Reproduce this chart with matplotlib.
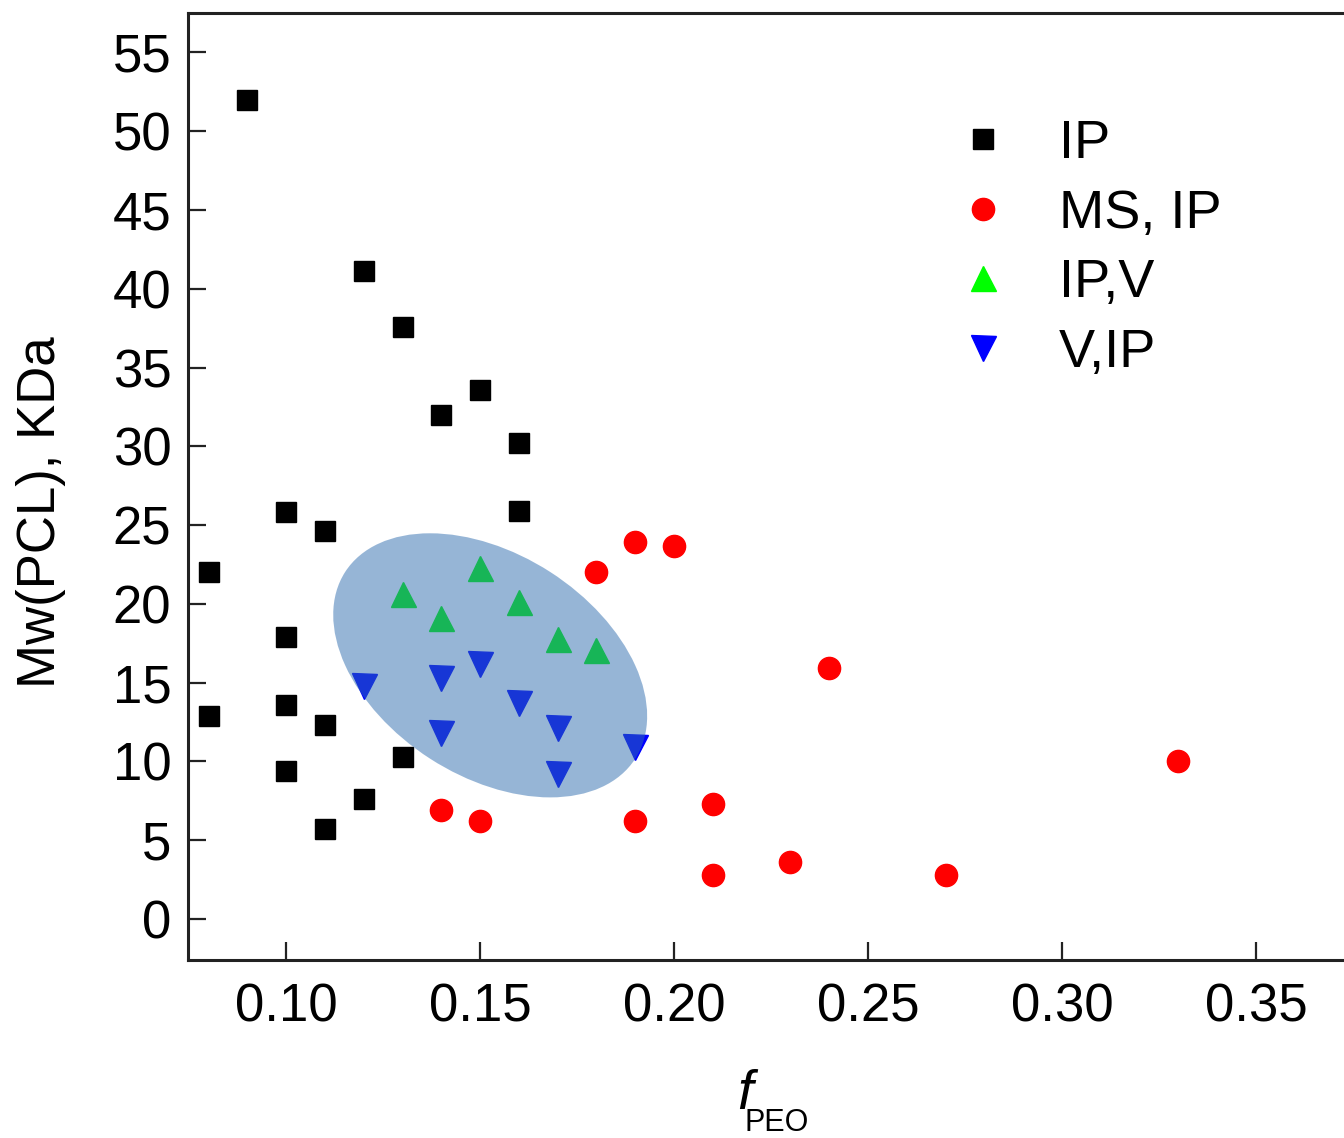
import matplotlib
matplotlib.use("Agg")
import matplotlib.pyplot as plt
from matplotlib.patches import Ellipse
from matplotlib.transforms import ScaledTranslation

plt.rcParams['font.family'] = ['Liberation Sans', 'DejaVu Sans']

# Data
ip_x = [0.09, 0.12, 0.13, 0.14, 0.15, 0.16, 0.16, 0.10, 0.11, 0.08, 0.10, 0.08, 0.10, 0.11, 0.10, 0.13, 0.12, 0.11]
ip_y = [52.0, 41.1, 37.6, 32.0, 33.6, 30.2, 25.9, 25.8, 24.6, 22.0, 17.9, 12.9, 13.6, 12.3, 9.4, 10.3, 7.6, 5.7]

ms_x = [0.19, 0.20, 0.18, 0.24, 0.33, 0.21, 0.14, 0.15, 0.19, 0.23, 0.21, 0.27]
ms_y = [23.9, 23.7, 22.0, 15.9, 10.0, 7.3, 6.9, 6.2, 6.2, 3.6, 2.8, 2.8]

ipv_x = [0.15, 0.13, 0.14, 0.16, 0.17, 0.18]
ipv_y = [22.3, 20.6, 19.1, 20.1, 17.8, 17.1]

vip_x = [0.12, 0.14, 0.15, 0.16, 0.14, 0.17, 0.19, 0.17]
vip_y = [14.8, 15.3, 16.2, 13.7, 11.8, 12.1, 10.9, 9.2]

x_ticks = [0.10, 0.15, 0.20, 0.25, 0.30, 0.35]
y_ticks = [0, 5, 10, 15, 20, 25, 30, 35, 40, 45, 50, 55]

ellipse_center = (0.1526, 16.1)

fig = plt.figure(figsize=(13.44, 11.38), dpi=100)
ax = fig.add_axes([188/1344, 1 - 960/1138, 1 - 188/1344, (960 - 13)/1138])

ax.plot(ip_x, ip_y, 's', color='black', ms=14, label='IP', zorder=3)
ax.plot(ms_x, ms_y, 'o', color='#ff0000', ms=16, label='MS, IP', zorder=3)
ax.plot(ipv_x, ipv_y, '^', color='#00ff00', ms=18, label='IP,V', zorder=3)
ax.plot(vip_x, vip_y, 'v', color='#0000ff', ms=18, label='V,IP', zorder=3)

# shaded ellipse (size in inches, placed at data center)
trans = fig.dpi_scale_trans + ScaledTranslation(ellipse_center[0], ellipse_center[1], ax.transData)
ell = Ellipse((0, 0), width=3.45, height=2.22, angle=-32.8, transform=trans,
              facecolor='#2f6daf', alpha=0.5, edgecolor='none', zorder=4)
ax.add_patch(ell)

ax.set_xlim(0.0747, 0.3727)
ax.set_ylim(-2.6, 57.5)
ax.set_xticks(x_ticks)
ax.set_xticklabels([f"{v:.2f}" for v in x_ticks])
ax.set_yticks(y_ticks)
ax.set_yticklabels([str(v) for v in y_ticks])

for s in ['left', 'top', 'bottom']:
    ax.spines[s].set_linewidth(2.2)
    ax.spines[s].set_color('#222222')
ax.spines['right'].set_visible(False)

ax.tick_params(axis='both', direction='in', length=13, width=1.6, color='#222222', labelsize=38)
ax.tick_params(axis='x', pad=16)
ax.tick_params(axis='y', pad=12)

ax.set_ylabel('Mw(PCL), KDa', fontsize=38)
ax.yaxis.set_label_coords(-0.1055, 0.473)

ax.set_xlabel('f', fontsize=40, style='italic')
ax.xaxis.set_label_coords(0.4818, -0.115)
ax.text(0.4818, -0.156, 'PEO', transform=ax.transAxes, fontsize=22, ha='left', va='top')

leg = ax.legend(loc='upper left', bbox_to_anchor=(929/1344, 1 - 92/1138), bbox_transform=fig.transFigure,
                frameon=False, fontsize=39, handlelength=1.0, handletextpad=0.9,
                labelspacing=0.36, borderpad=0.0)

fig.savefig('out.png', dpi=100)
